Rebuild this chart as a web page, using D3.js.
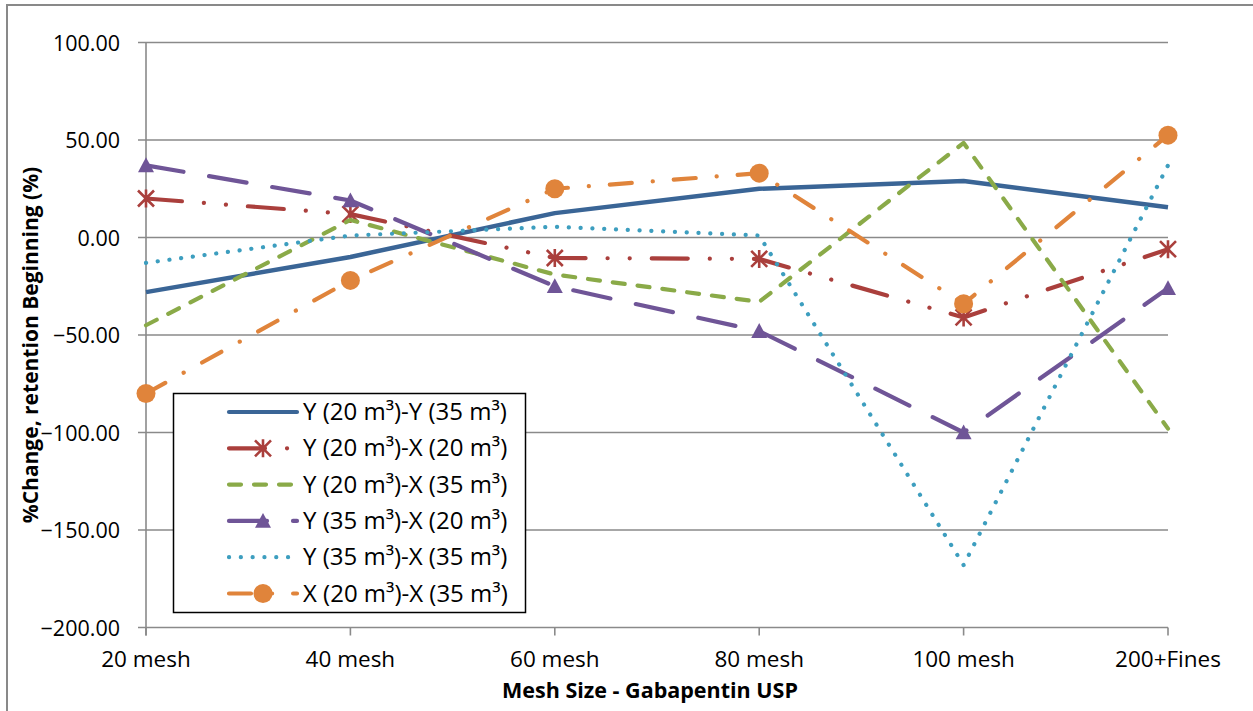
<!DOCTYPE html>
<html><head><meta charset="utf-8">
<script src="https://cdn.jsdelivr.net/npm/d3@7"></script>
<style>
body{margin:0;background:#fff;}
svg{display:block;}
text{font-family:"Open Sans",Lato,sans-serif;fill:#000;}
</style></head>
<body>
<script>
const categories = ["20 mesh","40 mesh","60 mesh","80 mesh","100 mesh","200+Fines"];
const yTicks = [100,50,0,-50,-100,-150,-200];
const seriesNames = ["Y (20 m³)-Y (35 m³)","Y (20 m³)-X (20 m³)","Y (20 m³)-X (35 m³)","Y (35 m³)-X (20 m³)","Y (35 m³)-X (35 m³)","X (20 m³)-X (35 m³)"];
const sY20Y35 = [-28, -10, 12.5, 25, 29, 15.5];
const sY20X20 = [20, 12, -10.5, -11, -41, -6];
const sY20X35 = [-45, 9, -19, -33, 48.5, -98];
const sY35X20 = [37, 19, -25, -48, -100, -26];
const sY35X35 = [-13, 1, 5.5, 1, -168, 37];
const sX20X35 = [-80, -22, 25, 33, -34, 52.5];
const allSeries = [sY20Y35, sY20X20, sY20X35, sY35X20, sY35X35, sX20X35];

const colors = ["#3A6596","#AA3F3C","#8AAA48","#6F5597","#3D9EBF","#E0843B"];
const dashes = [null, "36 22 0.1 22 0.1 22", "12 13", "38 26", "0.1 11.7", "22 21 0.1 21"];
const markers = [null, "star", null, "triangle", null, "circle"];

const W = 1253, H = 711;
const svg = d3.select("body").append("svg").attr("width", W).attr("height", H);

svg.append("rect").attr("x",7).attr("y",5).attr("width",1260).attr("height",720)
  .attr("fill","none").attr("stroke","#898989").attr("stroke-width",2);

const x = d3.scalePoint().domain(categories).range([146,1168]).padding(0);
const y = d3.scaleLinear().domain([-200,100]).range([627.5,42.5]);

svg.append("g").selectAll("line").data(yTicks).join("line")
  .attr("x1",138).attr("x2",1168).attr("y1",d=>y(d)).attr("y2",d=>y(d))
  .attr("stroke","#8a8a8a").attr("stroke-width",1.6);
svg.append("line").attr("x1",146).attr("x2",146).attr("y1",y(100)).attr("y2",y(-200)+8)
  .attr("stroke","#8a8a8a").attr("stroke-width",1.6);
svg.append("g").selectAll("line").data(categories).join("line")
  .attr("x1",d=>x(d)).attr("x2",d=>x(d)).attr("y1",y(-200)).attr("y2",y(-200)+8)
  .attr("stroke","#8a8a8a").attr("stroke-width",1.6);

svg.append("g").selectAll("text").data(yTicks).join("text")
  .attr("x",120).attr("y",d=>y(d)+8).attr("text-anchor","end")
  .style("font-size","21.5px").text(d=>d3.format(".2f")(d));
svg.append("g").selectAll("text").data(categories).join("text")
  .attr("x",d=>x(d)).attr("y",667).attr("text-anchor","middle")
  .style("font-size","22.5px").text(d=>d);

svg.append("text").attr("x",650).attr("y",698).attr("text-anchor","middle")
  .style("font-size","21.5px").style("font-weight","bold").text("Mesh Size - Gabapentin USP");
svg.append("text").attr("transform","translate(38,345) rotate(-90)").attr("text-anchor","middle")
  .style("font-size","21px").style("font-weight","bold").text("%Change, retention Beginning (%)");

function drawMarker(g, type, cx, cy, color){
  if(type==="circle"){
    g.append("circle").attr("cx",cx).attr("cy",cy).attr("r",9.5).attr("fill",color);
  } else if(type==="triangle"){
    const s=8;
    g.append("path").attr("d",`M${cx},${cy-s}L${cx+s},${cy+s*0.85}L${cx-s},${cy+s*0.85}Z`).attr("fill",color);
  } else if(type==="star"){
    const s=8;
    g.append("path").attr("d",`M${cx-s},${cy-s}L${cx+s},${cy+s}M${cx-s},${cy+s}L${cx+s},${cy-s}M${cx},${cy-s-1}L${cx},${cy+s+1}`)
      .attr("stroke",color).attr("stroke-width",2.6).attr("fill","none");
  }
}

const line = d3.line().x((d,i)=>x(categories[i])).y(d=>y(d));
const plot = svg.append("g");
allSeries.forEach((s,k)=>{
  const p = plot.append("path").datum(s).attr("d",line).attr("fill","none")
    .attr("stroke",colors[k]).attr("stroke-width",k===0?4.5:4.2)
    .attr("stroke-linecap", k===0?"butt":"round").attr("stroke-linejoin","round");
  if(dashes[k]) p.attr("stroke-dasharray",dashes[k]);
  if(markers[k]) s.forEach((v,i)=>drawMarker(plot,markers[k],x(categories[i]),y(v),colors[k]));
});

const lg = svg.append("g");
lg.append("rect").attr("x",173.5).attr("y",393.5).attr("width",352).attr("height",219)
  .attr("fill","#fff").attr("stroke","#000").attr("stroke-width",1.5);
const rowY = d3.range(6).map(i=>412+i*36.3);
seriesNames.forEach((n,k)=>{
  const yy = rowY[k];
  const l = lg.append("line").attr("x1",229).attr("x2",297).attr("y1",yy).attr("y2",yy)
    .attr("stroke",colors[k]).attr("stroke-width",4.2).attr("stroke-linecap","round");
  if(dashes[k]) l.attr("stroke-dasharray",dashes[k]);
  if(markers[k]) drawMarker(lg,markers[k],263,yy,colors[k]);
  lg.append("text").attr("x",303).attr("y",yy+8).style("font-size","24px").text(n);
});
</script>
</body></html>
